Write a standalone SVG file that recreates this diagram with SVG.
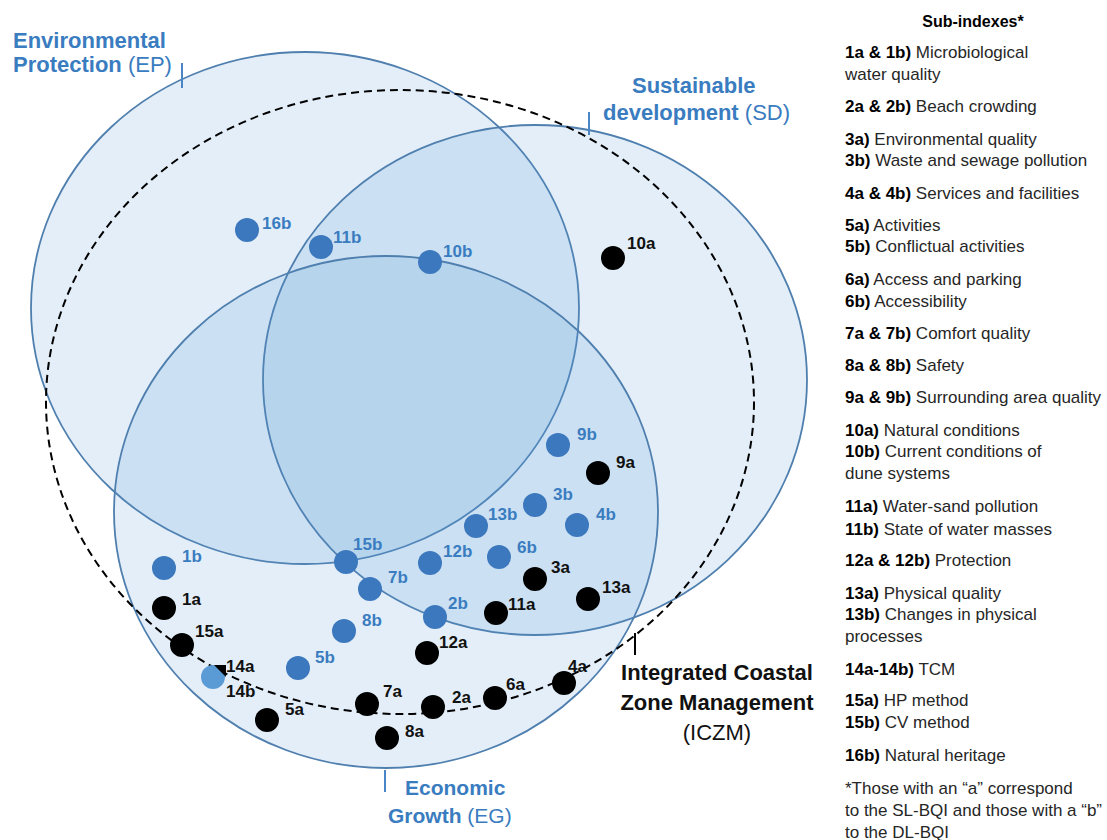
<svg xmlns="http://www.w3.org/2000/svg" width="1107" height="840" viewBox="0 0 1107 840">
<style>
.ring{fill:#5b9bd5;fill-opacity:.17;stroke:#4f7fae;stroke-width:1.8}
.iczm{fill:none;stroke:#000;stroke-width:2;stroke-dasharray:8 5}
.dotb{fill:#3c78bd}
.dota{fill:#000}
.dl{font-family:"Liberation Sans",Arial,sans-serif;font-size:17px;font-weight:bold}
.dlb{fill:#3a7cc0}
.dla{fill:#111}
.ttl{font-family:"Liberation Sans",Arial,sans-serif;font-size:22px;fill:#3a7cc0}
.ttlk{font-family:"Liberation Sans",Arial,sans-serif;font-size:22px;fill:#111;text-anchor:middle}
.b{font-weight:bold}
.lg{font-family:"Liberation Sans",Arial,sans-serif;font-size:17px;fill:#262626}
.lg .b{fill:#000}
.tick{stroke:#4a86c5;stroke-width:2}
</style>

<g id="circle-EP"><ellipse class="ring" cx="305" cy="308" rx="274" ry="256"/></g>
<g id="circle-SD"><ellipse class="ring" cx="535" cy="380" rx="272" ry="255"/></g>
<g id="circle-EG"><ellipse class="ring" cx="386" cy="512" rx="272" ry="256"/></g>
<g id="circle-ICZM"><ellipse class="iczm" cx="400" cy="402" rx="354" ry="312"/></g>

<g id="connectors">
<line class="tick" x1="182" y1="63" x2="182" y2="88"/>
<line class="tick" x1="589" y1="112" x2="589" y2="135"/>
<line class="tick" x1="385" y1="770" x2="385" y2="792"/>
<line x1="635" y1="633" x2="635" y2="655" stroke="#000" stroke-width="2"/>
</g>

<g id="label-EP"><text class="ttl" x="13" y="48"><tspan class="b">Environmental</tspan></text><text class="ttl" x="13" y="72"><tspan class="b">Protection</tspan> (EP)</text></g>
<g id="label-SD"><text class="ttl" x="632" y="93"><tspan class="b">Sustainable</tspan></text><text class="ttl" x="603" y="120"><tspan class="b">development</tspan> (SD)</text></g>
<g id="label-EG"><text class="ttl" x="405" y="795" style="font-size:21px"><tspan class="b">Economic</tspan></text><text class="ttl" x="388" y="823" style="font-size:21px"><tspan class="b">Growth</tspan> (EG)</text></g>
<g id="label-ICZM"><text class="ttlk b" x="717" y="680">Integrated Coastal</text><text class="ttlk b" x="717" y="710">Zone Management</text><text class="ttlk" x="717" y="740">(ICZM)</text></g>

<g id="n16b"><circle class="dotb" cx="247" cy="230" r="12"/><text class="dl dlb" x="262" y="229">16b</text></g>
<g id="n11b"><circle class="dotb" cx="321" cy="247" r="12"/><text class="dl dlb" x="333" y="243">11b</text></g>
<g id="n10b"><circle class="dotb" cx="430" cy="262" r="12"/><text class="dl dlb" x="443" y="257">10b</text></g>
<g id="n10a"><circle class="dota" cx="613" cy="258" r="12"/><text class="dl dla" x="627" y="249">10a</text></g>
<g id="n9b"><circle class="dotb" cx="558" cy="445" r="12"/><text class="dl dlb" x="577" y="440">9b</text></g>
<g id="n9a"><circle class="dota" cx="598" cy="473" r="12"/><text class="dl dla" x="616" y="468">9a</text></g>
<g id="n3b"><circle class="dotb" cx="535" cy="505" r="12"/><text class="dl dlb" x="553" y="500">3b</text></g>
<g id="n4b"><circle class="dotb" cx="577" cy="525" r="12"/><text class="dl dlb" x="596" y="520">4b</text></g>
<g id="n13b"><circle class="dotb" cx="476" cy="526" r="12"/><text class="dl dlb" x="488" y="520">13b</text></g>
<g id="n15b"><circle class="dotb" cx="346" cy="562" r="12"/><text class="dl dlb" x="353" y="550">15b</text></g>
<g id="n12b"><circle class="dotb" cx="430" cy="563" r="12"/><text class="dl dlb" x="443" y="557">12b</text></g>
<g id="n6b"><circle class="dotb" cx="499" cy="557" r="12"/><text class="dl dlb" x="517" y="553">6b</text></g>
<g id="n3a"><circle class="dota" cx="535" cy="579" r="12"/><text class="dl dla" x="551" y="573">3a</text></g>
<g id="n13a"><circle class="dota" cx="588" cy="599" r="12"/><text class="dl dla" x="602" y="593">13a</text></g>
<g id="n11a"><circle class="dota" cx="496" cy="613" r="12"/><text class="dl dla" x="508" y="610">11a</text></g>
<g id="n7b"><circle class="dotb" cx="370" cy="589" r="12"/><text class="dl dlb" x="388" y="583">7b</text></g>
<g id="n2b"><circle class="dotb" cx="435" cy="617" r="12"/><text class="dl dlb" x="448" y="609">2b</text></g>
<g id="n1b"><circle class="dotb" cx="164" cy="568" r="12"/><text class="dl dlb" x="182" y="562">1b</text></g>
<g id="n1a"><circle class="dota" cx="164" cy="608" r="12"/><text class="dl dla" x="182" y="605">1a</text></g>
<g id="n15a"><circle class="dota" cx="182" cy="645" r="12"/><text class="dl dla" x="195" y="637">15a</text></g>
<g id="n14"><circle cx="213" cy="677" r="12" fill="#5b9bd5"/><polygon points="214,665 226,665 226,677" fill="#000"/><text class="dl dla" x="226" y="672">14a</text><text class="dl dla" x="226" y="697">14b</text></g>
<g id="n5a"><circle class="dota" cx="267" cy="720" r="12"/><text class="dl dla" x="285" y="715">5a</text></g>
<g id="n5b"><circle class="dotb" cx="298" cy="668" r="12"/><text class="dl dlb" x="315" y="663">5b</text></g>
<g id="n8b"><circle class="dotb" cx="344" cy="631" r="12"/><text class="dl dlb" x="362" y="626">8b</text></g>
<g id="n12a"><circle class="dota" cx="427" cy="653" r="12"/><text class="dl dla" x="439" y="648">12a</text></g>
<g id="n7a"><circle class="dota" cx="367" cy="704" r="12"/><text class="dl dla" x="383" y="697">7a</text></g>
<g id="n2a"><circle class="dota" cx="433" cy="707" r="12"/><text class="dl dla" x="452" y="703">2a</text></g>
<g id="n6a"><circle class="dota" cx="495" cy="698" r="12"/><text class="dl dla" x="506" y="690">6a</text></g>
<g id="n4a"><circle class="dota" cx="564" cy="683" r="12"/><text class="dl dla" x="568" y="672">4a</text></g>
<g id="n8a"><circle class="dota" cx="387" cy="738" r="12"/><text class="dl dla" x="405" y="737">8a</text></g>

<g id="legend" class="lg">
<text x="973" y="27" text-anchor="middle" class="b" style="font-size:16px">Sub-indexes*</text>
<text x="845" y="58"><tspan class="b">1a &amp; 1b)</tspan> Microbiological</text>
<text x="845" y="80">water quality</text>
<text x="845" y="112"><tspan class="b">2a &amp; 2b)</tspan> Beach crowding</text>
<text x="845" y="145"><tspan class="b">3a)</tspan> Environmental quality</text>
<text x="845" y="166"><tspan class="b">3b)</tspan> Waste and sewage pollution</text>
<text x="845" y="199"><tspan class="b">4a &amp; 4b)</tspan> Services and facilities</text>
<text x="845" y="231"><tspan class="b">5a)</tspan> Activities</text>
<text x="845" y="252"><tspan class="b">5b)</tspan> Conflictual activities</text>
<text x="845" y="285"><tspan class="b">6a)</tspan> Access and parking</text>
<text x="845" y="307"><tspan class="b">6b)</tspan> Accessibility</text>
<text x="845" y="339"><tspan class="b">7a &amp; 7b)</tspan> Comfort quality</text>
<text x="845" y="371"><tspan class="b">8a &amp; 8b)</tspan> Safety</text>
<text x="845" y="403"><tspan class="b">9a &amp; 9b)</tspan> Surrounding area quality</text>
<text x="845" y="436"><tspan class="b">10a)</tspan> Natural conditions</text>
<text x="845" y="457"><tspan class="b">10b)</tspan> Current conditions of</text>
<text x="845" y="479">dune systems</text>
<text x="845" y="512"><tspan class="b">11a)</tspan> Water-sand pollution</text>
<text x="845" y="535"><tspan class="b">11b)</tspan> State of water masses</text>
<text x="845" y="566"><tspan class="b">12a &amp; 12b)</tspan> Protection</text>
<text x="845" y="599"><tspan class="b">13a)</tspan> Physical quality</text>
<text x="845" y="620"><tspan class="b">13b)</tspan> Changes in physical</text>
<text x="845" y="642">processes</text>
<text x="845" y="675"><tspan class="b">14a-14b)</tspan> TCM</text>
<text x="845" y="706"><tspan class="b">15a)</tspan> HP method</text>
<text x="845" y="728"><tspan class="b">15b)</tspan> CV method</text>
<text x="845" y="761"><tspan class="b">16b)</tspan> Natural heritage</text>
<text x="845" y="794">*Those with an “a” correspond</text>
<text x="845" y="816">to the SL-BQI and those with a “b”</text>
<text x="845" y="838">to the DL-BQI</text>
</g>
</svg>
